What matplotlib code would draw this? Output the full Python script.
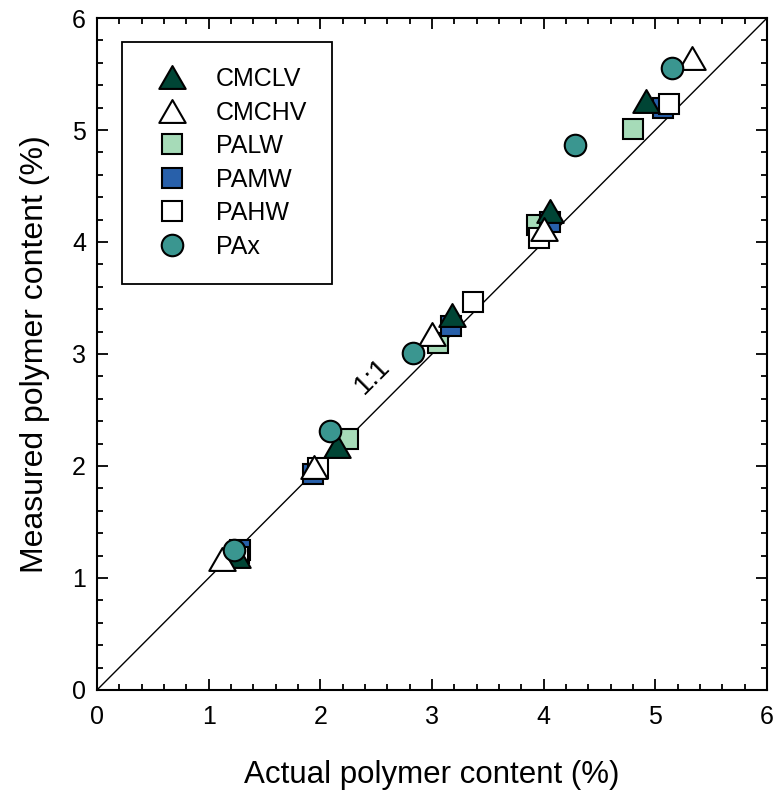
import numpy as np
import matplotlib
matplotlib.use("Agg")
import matplotlib.pyplot as plt
from matplotlib.path import Path
from matplotlib.ticker import MultipleLocator

plt.rcParams['font.family'] = ['Liberation Sans', 'DejaVu Sans']

# data (actual %, measured %)
series_names = ["CMCLV", "CMCHV", "PALW", "PAMW", "PAHW", "PAx"]

cmclv_x = [1.25, 2.15, 3.18, 4.06, 4.92]
cmclv_y = [1.20, 2.18, 3.35, 4.28, 5.26]

cmchv_x = [1.12, 1.94, 3.00, 4.00, 5.33]
cmchv_y = [1.17, 1.99, 3.18, 4.12, 5.64]

palw_x = [1.27, 2.25, 3.05, 3.94, 4.80]
palw_y = [1.22, 2.24, 3.10, 4.15, 5.01]

pamw_x = [1.28, 1.93, 3.17, 4.06, 5.07]
pamw_y = [1.25, 1.93, 3.25, 4.18, 5.20]

pahw_x = [1.26, 1.98, 3.37, 3.96, 5.12]
pahw_y = [1.19, 1.98, 3.46, 4.04, 5.23]

pax_x = [1.23, 2.09, 2.83, 4.28, 5.15]
pax_y = [1.25, 2.31, 3.01, 4.87, 5.55]

# equilateral triangle centred on its bounding box
tri = Path([(-1, -0.866), (1, -0.866), (0, 0.866), (-1, -0.866)],
           [Path.MOVETO, Path.LINETO, Path.LINETO, Path.CLOSEPOLY])

fig = plt.figure(figsize=(7.78, 7.97), dpi=100)
ax = fig.add_axes([0.1247, 0.1343, 0.8612, 0.8431])

# 1:1 line
ax.plot([0, 6], [0, 6], color='black', lw=1.0, zorder=1)
ax.text(2.47, 2.80, "1:1", rotation=45, fontsize=20, ha='center', va='center')

ms_sq = 15
ms_o = 15.5
ms_tri = 19
ew = 1.5

ax.plot(cmclv_x, cmclv_y, ls='none', marker=tri, ms=ms_tri, mfc='#004535', mec='black', mew=ew, label="CMCLV", zorder=3)
ax.plot(cmchv_x, cmchv_y, ls='none', marker=tri, ms=ms_tri, mfc='white', mec='black', mew=ew, label="CMCHV", zorder=3)
ax.plot(palw_x, palw_y, ls='none', marker='s', ms=ms_sq, mfc='#a6dbb8', mec='black', mew=ew, label="PALW", zorder=2)
ax.plot(pamw_x, pamw_y, ls='none', marker='s', ms=ms_sq, mfc='#2860aa', mec='black', mew=ew, label="PAMW", zorder=2)
ax.plot(pahw_x, pahw_y, ls='none', marker='s', ms=ms_sq, mfc='white', mec='black', mew=ew, label="PAHW", zorder=2)
ax.plot(pax_x, pax_y, ls='none', marker='o', ms=ms_o, mfc='#3a9690', mec='black', mew=ew, label="PAx", zorder=4)

ax.set_xlim(0, 6)
ax.set_ylim(0, 6)
ax.xaxis.set_major_locator(MultipleLocator(1))
ax.yaxis.set_major_locator(MultipleLocator(1))
ax.xaxis.set_minor_locator(MultipleLocator(0.2))
ax.yaxis.set_minor_locator(MultipleLocator(0.2))
ax.tick_params(which='both', direction='in', top=True, right=True, width=1.3, labelsize=18)
ax.tick_params(which='major', length=8)
ax.tick_params(which='minor', length=4.5)
ax.tick_params(axis='x', pad=11)
ax.tick_params(axis='y', pad=8)
for s in ax.spines.values():
    s.set_linewidth(1.5)

ax.set_xlabel("Actual polymer content (%)", fontsize=22.5, labelpad=22)
ax.set_ylabel("Measured polymer content (%)", fontsize=23, labelpad=16)

leg = ax.legend(loc='upper left', bbox_to_anchor=(0.037, 0.964), fontsize=18,
                frameon=True, fancybox=False, edgecolor='black', framealpha=1,
                borderpad=1.0, labelspacing=0.38, handletextpad=0.75, handlelength=2.0,
                borderaxespad=0)
leg.get_frame().set_linewidth(1.3)

fig.savefig("out.png", dpi=100)
